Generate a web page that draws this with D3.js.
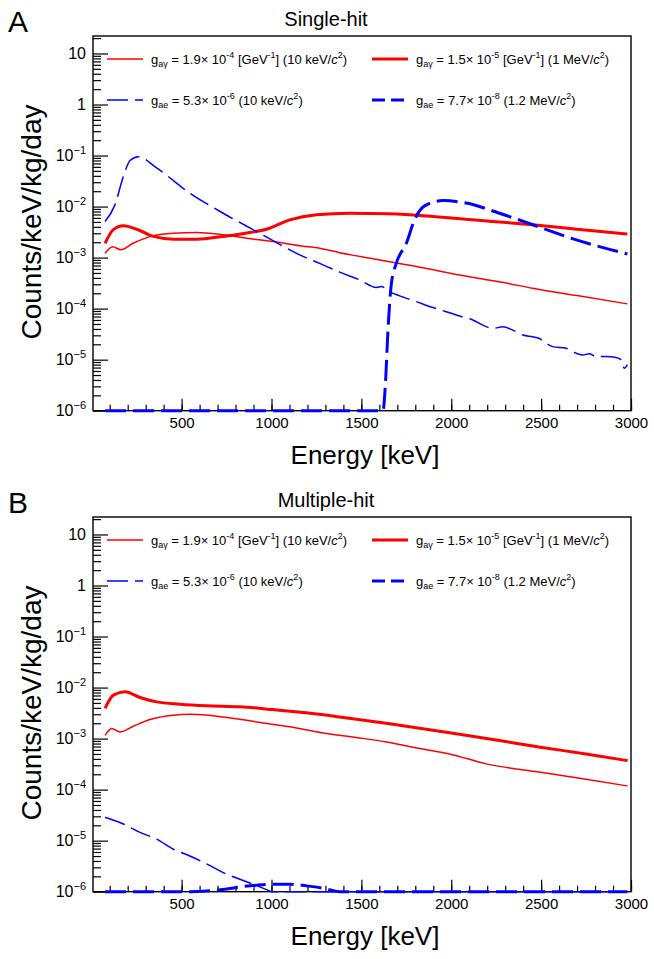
<!DOCTYPE html>
<html>
<head>
<meta charset="utf-8">
<script src="https://cdn.jsdelivr.net/npm/d3@7"></script>
<style>
  body { margin: 0; background: #fff; }
  svg { font-family: "Liberation Sans", Arial, sans-serif; }
</style>
</head>
<body>
<svg id="chart" width="654" height="959"></svg>
<script>
  "use strict";

  // x ticks and y decades
  var xMajorTicks = [500, 1000, 1500, 2000, 2500, 3000];
  var yDecades = [1e-6, 1e-5, 1e-4, 1e-3, 1e-2, 1e-1, 1, 10];
  var yDecadeLabels = ["10", "10", "10", "10", "10", "10", "1", "10"];
  var yDecadeExps = ["\u22126", "\u22125", "\u22124", "\u22123", "\u22122", "\u22121", "", ""];

  // panel A : single-hit  [energy keV, counts/keV/kg/day]
  var singleAgThin = [[74, 1.22e-3], [117, 1.64e-3], [161, 1.42e-3], [230, 1.91e-3], [324, 2.58e-3],
    [453, 3.0e-3], [583, 3.1e-3], [730, 2.8e-3], [861, 2.4e-3], [1009, 2.06e-3], [1157, 1.7e-3],
    [1268, 1.53e-3], [1379, 1.25e-3], [1602, 9.0e-4], [1800, 6.8e-4], [2000, 4.9e-4], [2157, 3.9e-4],
    [2300, 3.2e-4], [2452, 2.5e-4], [2700, 1.8e-4], [2980, 1.24e-4]];
  var singleAgThick = [[74, 1.9e-3], [119, 3.5e-3], [176, 4.2e-3], [250, 3.6e-3], [343, 2.6e-3],
    [453, 2.3e-3], [583, 2.3e-3], [731, 2.6e-3], [879, 3.1e-3], [972, 3.6e-3], [1102, 5.5e-3],
    [1250, 6.9e-3], [1435, 7.4e-3], [1650, 7.2e-3], [1898, 6.4e-3], [2150, 5.4e-3], [2452, 4.4e-3],
    [2700, 3.6e-3], [2980, 2.9e-3]];
  var singleAeThin = [[74, 5.1e-3], [129, 1.08e-2], [176, 3.9e-2], [213, 8.0e-2], [259, 9.5e-2],
    [361, 5.7e-2], [546, 1.83e-2], [731, 7.4e-3], [917, 3.24e-3], [1102, 1.42e-3], [1157, 1.13e-3],
    [1268, 7.7e-4], [1379, 5.2e-4], [1491, 3.65e-4], [1583, 2.6e-4], [1611, 2.7e-4], [1657, 2.15e-4],
    [1713, 1.78e-4], [1806, 1.37e-4], [1898, 1.05e-4], [1972, 8.7e-5], [2046, 7.2e-5], [2120, 6.0e-5],
    [2194, 4.44e-5], [2231, 4.1e-5], [2287, 4.4e-5], [2342, 3.8e-5], [2398, 3.05e-5], [2454, 2.8e-5],
    [2490, 2.6e-5], [2528, 2.1e-5], [2565, 1.8e-5], [2639, 1.67e-5], [2676, 1.43e-5], [2731, 1.24e-5],
    [2768, 1.3e-5], [2806, 1.15e-5], [2861, 1.15e-5], [2917, 1.1e-5], [2944, 1.0e-5], [2963, 6.8e-6],
    [2980, 8.0e-6]];
  var singleAeThick = [[74, 1e-6], [1620, 1e-6], [1635, 4e-6], [1648, 3.8e-5], [1667, 3.1e-4],
    [1694, 7.7e-4], [1750, 1.9e-3], [1796, 5.5e-3], [1852, 1.03e-2], [1954, 1.31e-2], [2083, 1.17e-2],
    [2268, 7.4e-3], [2454, 4.4e-3], [2639, 2.58e-3], [2824, 1.64e-3], [2980, 1.18e-3]];

  // panel B : multiple-hit
  var multiAgThin = [[74, 1.16e-3], [111, 1.58e-3], [157, 1.35e-3], [231, 1.75e-3], [324, 2.37e-3],
    [454, 2.88e-3], [546, 3.0e-3], [731, 2.66e-3], [917, 2.12e-3], [1102, 1.7e-3], [1287, 1.29e-3],
    [1472, 1.05e-3], [1639, 8.6e-4], [1800, 6.6e-4], [2000, 4.9e-4], [2194, 3.2e-4], [2496, 2.2e-4],
    [2750, 1.6e-4], [2981, 1.18e-4]];
  var multiAgThick = [[74, 3.9e-3], [120, 7.1e-3], [185, 8.3e-3], [268, 6.4e-3], [361, 5.25e-3],
    [491, 4.73e-3], [639, 4.4e-3], [824, 4.2e-3], [1009, 3.7e-3], [1194, 3.2e-3], [1379, 2.66e-3],
    [1648, 1.97e-3], [2000, 1.29e-3], [2250, 9.4e-4], [2496, 6.8e-4], [2750, 5.0e-4], [2981, 3.7e-4]];
  var multiAeThin = [[74, 2.87e-5], [176, 2.12e-5], [268, 1.45e-5], [361, 1.07e-5], [454, 6.8e-6],
    [546, 5.0e-6], [639, 3.5e-6], [731, 2.37e-6], [824, 1.75e-6], [898, 1.4e-6], [972, 1.1e-6],
    [1000, 1e-6], [2980, 1e-6]];
  var multiAeThick = [[74, 1e-6], [546, 1e-6], [639, 1.03e-6], [731, 1.1e-6], [824, 1.24e-6],
    [917, 1.34e-6], [1009, 1.4e-6], [1102, 1.4e-6], [1194, 1.3e-6], [1287, 1.17e-6], [1379, 1e-6],
    [2980, 1e-6]];

  var legendEntries = [
    { color: "#ff0000", width: 1.5, dash: null, col: 0, row: 0,
      parts: [["g"], ["a\u03b3", "sub"], [" = 1.9\u00d7 10"], ["-4", "sup"], [" [GeV"], ["-1", "sup"], ["] (10 keV/"], ["c", "it"], ["2", "sup"], [")"]] },
    { color: "#ff0000", width: 3.2, dash: null, col: 1, row: 0,
      parts: [["g"], ["a\u03b3", "sub"], [" = 1.5\u00d7 10"], ["-5", "sup"], [" [GeV"], ["-1", "sup"], ["] (1 MeV/"], ["c", "it"], ["2", "sup"], [")"]] },
    { color: "#0000ff", width: 1.5, dash: "21,7", col: 0, row: 1,
      parts: [["g"], ["ae", "sub"], [" = 5.3\u00d7 10"], ["-6", "sup"], [" (10 keV/"], ["c", "it"], ["2", "sup"], [")"]] },
    { color: "#0000ff", width: 3.2, dash: "13,6", col: 1, row: 1,
      parts: [["g"], ["ae", "sub"], [" = 7.7\u00d7 10"], ["-8", "sup"], [" (1.2 MeV/"], ["c", "it"], ["2", "sup"], [")"]] }
  ];

  var svg = d3.select("#chart");

  var frame = { left: 93, right: 631, top: 36, bottom: 410.7 };

  function drawPanel(offsetY, letter, title, series, clipId) {
    var g = svg.append("g").attr("transform", "translate(0," + offsetY + ")");

    var x = d3.scaleLinear().domain([7, 3000]).range([frame.left, frame.right]);
    var y = d3.scaleLog().domain([1e-6, 22]).range([frame.bottom, frame.top]);

    g.append("text")
      .attr("x", 8).attr("y", 32)
      .attr("font-size", 30)
      .text(letter);

    g.append("text")
      .attr("x", 326).attr("y", 26)
      .attr("text-anchor", "middle")
      .attr("font-size", 20)
      .text(title);

    g.append("clipPath").attr("id", clipId)
      .append("rect")
      .attr("x", frame.left).attr("y", frame.top - 2)
      .attr("width", frame.right - frame.left)
      .attr("height", frame.bottom - frame.top + 5);

    // minor y ticks
    var minors = [];
    yDecades.forEach(function(d) {
      for (var k = 2; k <= 9; k++) {
        if (d * k <= 22) minors.push(d * k);
      }
    });
    g.append("g")
      .attr("transform", "translate(" + frame.left + ",0)")
      .call(d3.axisLeft(y).tickValues(minors).tickSize(-8).tickFormat(""))
      .call(function(a) { a.select(".domain").remove(); });

    var yAxis = g.append("g")
      .attr("transform", "translate(" + frame.left + ",0)")
      .call(d3.axisLeft(y).tickValues(yDecades).tickSize(-15).tickPadding(7).tickFormat(""));
    yAxis.select(".domain").remove();
    yAxis.selectAll(".tick text").each(function(d, i) {
      var t = d3.select(this).attr("font-size", 16).attr("fill", "#000")
        .attr("font-family", "Liberation Sans, Arial, sans-serif");
      var base = t.append("tspan").text(yDecadeLabels[i]);
      if (yDecadeExps[i]) {
        base.attr("font-size", 16);
        t.append("tspan").attr("font-size", 11).attr("dy", -7).text(yDecadeExps[i]);
      }
    });

    // x axis
    var xMinors = d3.range(100, 3001, 100);
    g.append("g")
      .attr("transform", "translate(0," + frame.bottom + ")")
      .call(d3.axisBottom(x).tickValues(xMinors).tickSize(-6).tickFormat(""))
      .call(function(a) { a.select(".domain").remove(); });
    g.append("g")
      .attr("transform", "translate(0," + frame.bottom + ")")
      .call(d3.axisBottom(x).tickValues(xMajorTicks).tickSize(-12).tickPadding(7).tickFormat(d3.format("d")))
      .call(function(a) {
        a.select(".domain").remove();
        a.selectAll("text").attr("font-size", 15).attr("fill", "#000")
          .attr("font-family", "Liberation Sans, Arial, sans-serif");
      });

    g.selectAll(".tick line").attr("stroke", "#000").attr("stroke-width", 1.2);

    // frame
    g.append("rect")
      .attr("x", frame.left).attr("y", frame.top)
      .attr("width", frame.right - frame.left)
      .attr("height", frame.bottom - frame.top)
      .attr("fill", "none")
      .attr("stroke", "#000")
      .attr("stroke-width", 1.4);

    // curves (drawn over the frame so the ones pinned at 1e-6 stay visible)
    var line = d3.line()
      .x(function(d) { return x(d[0]); })
      .y(function(d) { return y(Math.max(d[1], 1e-6)); })
      .curve(d3.curveMonotoneX);

    g.append("g").attr("clip-path", "url(#" + clipId + ")")
      .selectAll("path.curve")
      .data(series)
      .enter()
      .append("path")
      .classed("curve", true)
      .attr("d", function(s) { return line(s.data); })
      .attr("fill", "none")
      .attr("stroke", function(s) { return s.color; })
      .attr("stroke-width", function(s) { return s.width; })
      .attr("stroke-dasharray", function(s) { return s.dash; })
      .attr("stroke-linejoin", "round");

    // legend
    var colX = [107, 372];
    var rowY = [59, 100];
    var leg = g.selectAll("g.legend")
      .data(legendEntries)
      .enter()
      .append("g")
      .classed("legend", true)
      .attr("transform", function(e) { return "translate(" + colX[e.col] + "," + rowY[e.row] + ")"; });

    leg.append("line")
      .attr("x1", 0).attr("x2", 36).attr("y1", 0).attr("y2", 0)
      .attr("stroke", function(e) { return e.color; })
      .attr("stroke-width", function(e) { return e.width; })
      .attr("stroke-dasharray", function(e) { return e.dash; });

    leg.append("text")
      .attr("x", 44).attr("y", 4.5)
      .attr("font-size", 13)
      .each(function(e) {
        var t = d3.select(this);
        var shift = 0;
        e.parts.forEach(function(p) {
          var span = t.append("tspan").text(p[0]);
          var target = 0;
          if (p[1] === "sub") { span.attr("font-size", 9); target = 3; }
          else if (p[1] === "sup") { span.attr("font-size", 9); target = -5.5; }
          else if (p[1] === "it") { span.attr("font-style", "italic"); }
          if (target !== shift) { span.attr("dy", target - shift); shift = target; }
        });
      });

    // axis titles
    g.append("text")
      .attr("x", 365).attr("y", 464)
      .attr("text-anchor", "middle")
      .attr("font-size", 26)
      .text("Energy [keV]");

    g.append("text")
      .attr("transform", "translate(41,222) rotate(-90)")
      .attr("text-anchor", "middle")
      .attr("font-size", 28)
      .text("Counts/keV/kg/day");
  }

  drawPanel(0, "A", "Single-hit", [
    { data: singleAgThin, color: "#ff0000", width: 1.5, dash: null },
    { data: singleAgThick, color: "#ff0000", width: 3, dash: null },
    { data: singleAeThin, color: "#0000ff", width: 1.5, dash: "21,7" },
    { data: singleAeThick, color: "#0000ff", width: 3, dash: "21,7" }
  ], "clipA");

  drawPanel(481, "B", "Multiple-hit", [
    { data: multiAgThin, color: "#ff0000", width: 1.5, dash: null },
    { data: multiAgThick, color: "#ff0000", width: 3, dash: null },
    { data: multiAeThin, color: "#0000ff", width: 1.5, dash: "21,7" },
    { data: multiAeThick, color: "#0000ff", width: 3, dash: "21,7" }
  ], "clipB");
</script>
</body>
</html>
